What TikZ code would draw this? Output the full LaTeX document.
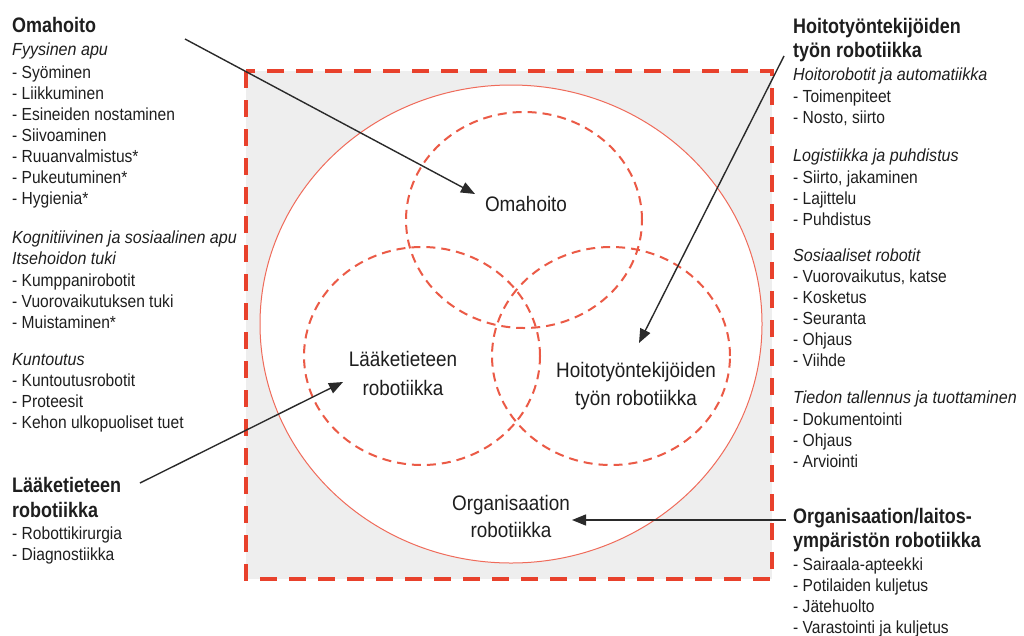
\documentclass[tikz,border=0pt]{standalone}
\usepackage{fontspec}
\setmainfont{Liberation Sans}
\newfontfamily\listfont{Liberation Sans}[FakeStretch=0.89]
\newfontfamily\subfont{Liberation Sans}[FakeStretch=0.92]
\newfontfamily\headfont{Liberation Sans}[FakeStretch=0.855]
\newfontfamily\labfont{Liberation Sans}[FakeStretch=0.9]
\usetikzlibrary{arrows.meta}
\definecolor{rred}{HTML}{E8412C}
\definecolor{cred}{HTML}{EF6B5A}
\definecolor{dred}{HTML}{EB5A46}
\definecolor{bgray}{HTML}{EEEEEE}
\definecolor{txt}{HTML}{1E1E1E}
\definecolor{arrc}{HTML}{2A2A2A}
\tikzset{
  head/.style={anchor=base west, inner sep=0pt, text=txt, font={\headfont\bfseries\fontsize{21}{25}\selectfont}},
  lst/.style={anchor=base west, inner sep=0pt, text=txt, font={\listfont\fontsize{17.5}{21}\selectfont}},
  sub/.style={anchor=base west, inner sep=0pt, text=txt, font={\subfont\itshape\fontsize{17.5}{21}\selectfont}},
  lab/.style={anchor=base, inner sep=0pt, text=txt, font={\labfont\fontsize{21}{28}\selectfont}},
  arr/.style={draw=arrc, line width=1.4pt, -{Triangle[length=14pt,width=11pt]}},
  frame/.style={draw=rred, line width=4pt, dash pattern=on 17pt off 12pt, fill=bgray},
  bigc/.style={draw=cred, line width=1pt, fill=white},
  dcirc/.style={draw=dred, line width=2pt, dash pattern=on 9pt off 6pt},
}
\begin{document}
\begin{tikzpicture}[x=1pt,y=-1pt]
\useasboundingbox (0,0) rectangle (1024,635);
% frame and circles
\path[frame] (246,71) rectangle (772,579);
\path[bigc] (511,324) ellipse [x radius=251pt, y radius=239pt];
\path[dcirc] (524,220) ellipse [x radius=118pt, y radius=108pt];
\path[dcirc] (422,356) ellipse [x radius=118pt, y radius=109pt];
\path[dcirc] (611,356) ellipse [x radius=119pt, y radius=109pt];
% inner labels
\node[lab] (iOma) at (526,211) {Omahoito};
\node[lab] (iLa1) at (403,366) {Lääketieteen};
\node[lab] (iLa2) at (403,395) {robotiikka};
\node[lab] (iHo1) at (636,377) {Hoitotyöntekijöiden};
\node[lab] (iHo2) at (636,405) {työn robotiikka};
\node[lab] (iOr1) at (511,510) {Organisaation};
\node[lab] (iOr2) at (511,537) {robotiikka};
% left column
\node[head] (hOma) at (12,32) {Omahoito};
\node[sub] (s1) at (12,55) {Fyysinen apu};
\node[lst] (l1) at (12,78) {- Syöminen};
\node[lst] (l2) at (12,99) {- Liikkuminen};
\node[lst] (l3) at (12,120) {- Esineiden nostaminen};
\node[lst] (l4) at (12,141) {- Siivoaminen};
\node[lst] (l5) at (12,162) {- Ruuanvalmistus*};
\node[lst] (l6) at (12,183) {- Pukeutuminen*};
\node[lst] (l7) at (12,204) {- Hygienia*};
\node[sub] (s2) at (12,243) {Kognitiivinen ja sosiaalinen apu};
\node[sub] (s3) at (12,264) {Itsehoidon tuki};
\node[lst] (l8) at (12,286) {- Kumppanirobotit};
\node[lst] (l9) at (12,307) {- Vuorovaikutuksen tuki};
\node[lst] (l10) at (12,328) {- Muistaminen*};
\node[sub] (s4) at (12,365) {Kuntoutus};
\node[lst] (l11) at (12,386) {- Kuntoutusrobotit};
\node[lst] (l12) at (12,407) {- Proteesit};
\node[lst] (l13) at (12,428) {- Kehon ulkopuoliset tuet};
\node[head] (hLa1) at (12,492) {Lääketieteen};
\node[head] (hLa2) at (12,517) {robotiikka};
\node[lst] (l14) at (12,539) {- Robottikirurgia};
\node[lst] (l15) at (12,560) {- Diagnostiikka};
% right column
\node[head] (hHo1) at (793,33) {Hoitotyöntekijöiden};
\node[head] (hHo2) at (793,57) {työn robotiikka};
\node[sub] (r0) at (793,80) {Hoitorobotit ja automatiikka};
\node[lst] (r1) at (793,102) {- Toimenpiteet};
\node[lst] (r2) at (793,123) {- Nosto, siirto};
\node[sub] (r3) at (793,161) {Logistiikka ja puhdistus};
\node[lst] (r4) at (793,183) {- Siirto, jakaminen};
\node[lst] (r5) at (793,204) {- Lajittelu};
\node[lst] (r6) at (793,225) {- Puhdistus};
\node[sub] (r7) at (793,261) {Sosiaaliset robotit};
\node[lst] (r8) at (793,282) {- Vuorovaikutus, katse};
\node[lst] (r9) at (793,303) {- Kosketus};
\node[lst] (r10) at (793,324) {- Seuranta};
\node[lst] (r11) at (793,345) {- Ohjaus};
\node[lst] (r12) at (793,366) {- Viihde};
\node[sub] (r13) at (793,403) {Tiedon tallennus ja tuottaminen};
\node[lst] (r14) at (793,425) {- Dokumentointi};
\node[lst] (r15) at (793,446) {- Ohjaus};
\node[lst] (r16) at (793,467) {- Arviointi};
\node[head] (hOr1) at (793,523) {Organisaation/laitos-};
\node[head] (hOr2) at (793,547) {ympäristön robotiikka};
\node[lst] (r17) at (793,570) {- Sairaala-apteekki};
\node[lst] (r18) at (793,591) {- Potilaiden kuljetus};
\node[lst] (r19) at (793,612) {- Jätehuolto};
\node[lst] (r20) at (793,633) {- Varastointi ja kuljetus};
% arrows
\coordinate (a1s) at (185,39);
\coordinate (a1e) at (475,194);
\coordinate (a2s) at (784,56);
\coordinate (a2e) at (639,343);
\coordinate (a3s) at (140,483);
\coordinate (a3e) at (343,382);
\coordinate (a4s) at (786,520);
\coordinate (a4e) at (572,520);
\draw[arr] (a1s) -- (a1e);
\draw[arr] (a2s) -- (a2e);
\draw[arr] (a3s) -- (a3e);
\draw[arr] (a4s) -- (a4e);
\end{tikzpicture}
\end{document}
